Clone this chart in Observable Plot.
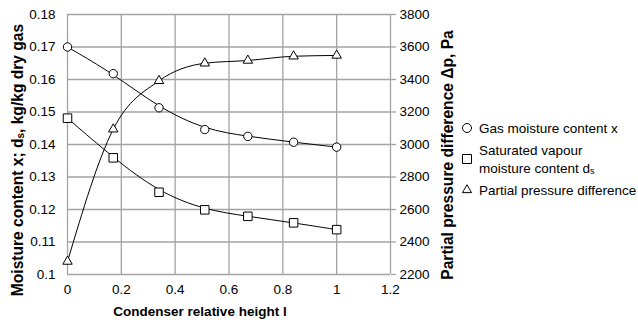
<!DOCTYPE html>
<html><head><meta charset="utf-8">
<script src="https://cdn.jsdelivr.net/npm/d3@7"></script>
<script src="https://cdn.jsdelivr.net/npm/@observablehq/plot@0.6"></script>
<style>body{margin:0;background:#fff} svg{display:block}</style>
</head><body><div id="chart"></div>
<script>
// Data
const heights = [0, 0.17, 0.34, 0.51, 0.67, 0.84, 1.0];
const gasMoisture = [0.1700, 0.1618, 0.1513, 0.1446, 0.1425, 0.1407, 0.1392];
const saturatedMoisture = [0.1481, 0.1359, 0.1253, 0.1199, 0.1179, 0.1159, 0.1138];
const pressureDiff = [2280, 3094, 3392, 3500, 3517, 3543, 3548];
const xTicks = [0, 0.2, 0.4, 0.6, 0.8, 1, 1.2];
const yTicks = [0.1, 0.11, 0.12, 0.13, 0.14, 0.15, 0.16, 0.17, 0.18];
const pTicks = [2200, 2400, 2600, 2800, 3000, 3200, 3400, 3600, 3800];
const legendLabels = ["Gas moisture content x", "Saturated vapour", "moisture content d", "Partial pressure difference"];

// secondary axis mapping (pressure -> left-axis units)
const pToY = d3.scaleLinear([2200, 3800], [0.1, 0.18]);

const gas = heights.map((h, i) => ({x: h, y: gasMoisture[i]}));
const sat = heights.map((h, i) => ({x: h, y: saturatedMoisture[i]}));
const pres = heights.map((h, i) => ({x: h, y: pToY(pressureDiff[i])}));

const gridColor = "#a3a3a3";
const font = "'Liberation Sans', Arial, sans-serif";

const chart = Plot.plot({
  width: 638, height: 325,
  marginLeft: 67, marginRight: 248, marginTop: 14, marginBottom: 51,
  style: {fontFamily: font, fontSize: "13.5px", color: "#000", background: "#fff"},
  x: {domain: [0, 1.2], axis: null},
  y: {domain: [0.1, 0.18], axis: null},
  marks: [
    Plot.gridX(xTicks, {stroke: gridColor, strokeOpacity: 1, strokeWidth: 1.3}),
    Plot.gridY(yTicks, {stroke: gridColor, strokeOpacity: 1, strokeWidth: 1.3}),
    Plot.axisX(xTicks, {tickSize: 0, tickPadding: 10, tickFormat: d => String(d), label: null, fontSize: 13.5}),
    Plot.axisY(yTicks, {anchor: "left", tickSize: 0, tickPadding: 12, tickFormat: d => String(d), label: null, fontSize: 13.5}),
    Plot.axisY(pTicks.map(pToY), {anchor: "right", tickSize: 5, tickPadding: 4, stroke: gridColor, strokeWidth: 1.3,
      tickFormat: d => String(Math.round(pToY.invert(d))), label: null, fontSize: 13.5}),
    Plot.line(gas, {x: "x", y: "y", curve: "basis", stroke: "#000", strokeWidth: 1}),
    Plot.line(sat, {x: "x", y: "y", curve: "basis", stroke: "#000", strokeWidth: 1}),
    Plot.line(pres, {x: "x", y: "y", curve: "monotone-x", stroke: "#000", strokeWidth: 1}),
    Plot.dot(gas, {x: "x", y: "y", symbol: "circle", r: 4.2, stroke: "#000", fill: "#fff", strokeWidth: 1}),
    Plot.dot(sat, {x: "x", y: "y", symbol: "square", r: 4.8, stroke: "#000", fill: "#fff", strokeWidth: 1}),
    Plot.dot(pres, {x: "x", y: "y", symbol: "triangle", r: 3.5, stroke: "#000", fill: "#fff", strokeWidth: 1})
  ]
});
document.getElementById("chart").appendChild(chart);

const svg = d3.select(chart);
const g = svg.append("g").attr("font-family", font).attr("fill", "#000");

// Axis titles
g.append("text").attr("x", 200).attr("y", 311).attr("text-anchor", "middle").attr("dominant-baseline", "central")
  .attr("font-weight", "bold").attr("font-size", 13.5).text("Condenser relative height l");

const lt = g.append("text").attr("transform", "translate(17,160) rotate(-90)").attr("text-anchor", "middle")
  .attr("dominant-baseline", "central").attr("font-weight", "bold").attr("font-size", 15.6);
lt.append("tspan").text("Moisture content x; d");
lt.append("tspan").attr("font-size", 10).attr("dy", 3).text("s");
lt.append("tspan").attr("dy", -3).text(", kg/kg dry gas");

g.append("text").attr("transform", "translate(447,155) rotate(-90)").attr("text-anchor", "middle")
  .attr("dominant-baseline", "central").attr("font-weight", "bold").attr("font-size", 15.6)
  .text("Partial pressure difference Δp, Pa");

// Legend
const lg = g.append("g").attr("font-size", 13.5).attr("text-anchor", "start");
const sym = (type, size, x, y) => lg.append("path").attr("d", d3.symbol(type, size)())
  .attr("transform", `translate(${x},${y})`).attr("fill", "#fff").attr("stroke", "#000").attr("stroke-width", 1);
sym(d3.symbolCircle, Math.PI * 4.5 * 4.5, 467, 128);
sym(d3.symbolSquare, 81, 467, 159);
sym(d3.symbolTriangle, 36, 467, 190);
lg.append("text").attr("x", 479).attr("y", 128).attr("dominant-baseline", "central").text(legendLabels[0]);
lg.append("text").attr("x", 479).attr("y", 150).attr("dominant-baseline", "central").text(legendLabels[1]);
const l2 = lg.append("text").attr("x", 479).attr("y", 168).attr("dominant-baseline", "central");
l2.append("tspan").text(legendLabels[2]);
l2.append("tspan").attr("font-size", 9).attr("dy", 3).text("s");
lg.append("text").attr("x", 479).attr("y", 190).attr("dominant-baseline", "central").text(legendLabels[3]);
</script></body></html>
